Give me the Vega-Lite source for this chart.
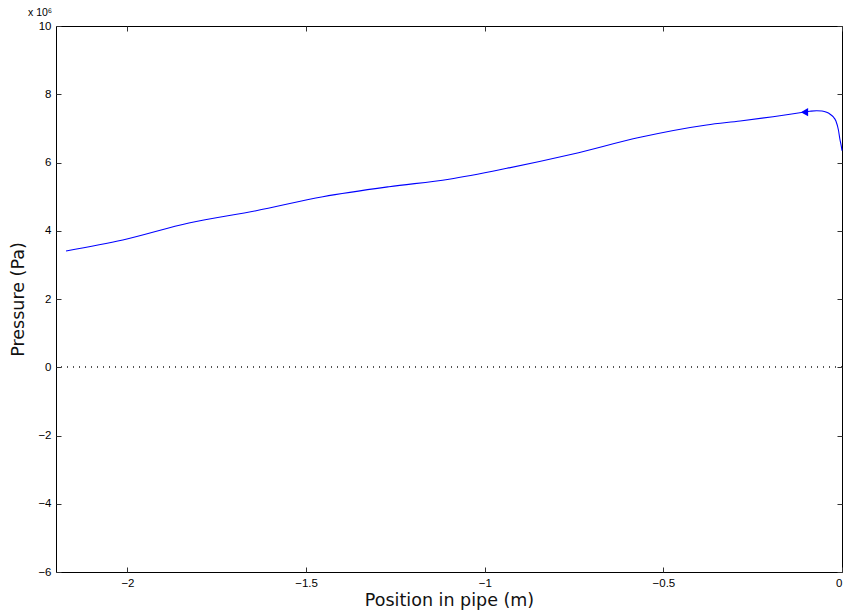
{
  "$schema": "https://vega.github.io/schema/vega-lite/v6.json",
  "width": 786,
  "height": 546,
  "autosize": "none",
  "padding": {"left": 56, "top": 26, "right": 3, "bottom": 44},
  "background": "white",
  "config": {
    "view": {"stroke": "black", "strokeWidth": 1},
    "axis": {
      "grid": false,
      "domain": false,
      "tickColor": "#333333",
      "tickWidth": 1,
      "tickSize": {"expr": "-5"},
      "labelFont": "Liberation Sans",
      "labelFontSize": 11.5,
      "labelColor": "black",
      "labelPadding": 10,
      "titleFont": "DejaVu Sans",
      "titleFontSize": 17.5,
      "titleFontWeight": "normal",
      "titleColor": "#111111"
    }
  },
  "title": {
    "text": "x 10⁶",
    "anchor": "start",
    "frame": "group",
    "dx": -28,
    "offset": 2,
    "font": "Liberation Sans",
    "fontSize": 10.5,
    "fontWeight": "normal",
    "color": "black"
  },
  "data": {
    "values": [
      {"x": -2.172, "p": 3407000},
      {"x": -2.013, "p": 3729000},
      {"x": -1.828, "p": 4227000},
      {"x": -1.640, "p": 4588000},
      {"x": -1.453, "p": 4998000},
      {"x": -1.268, "p": 5291000},
      {"x": -1.100, "p": 5510000},
      {"x": -0.938, "p": 5830000},
      {"x": -0.753, "p": 6249000},
      {"x": -0.565, "p": 6739000},
      {"x": -0.379, "p": 7099000},
      {"x": -0.285, "p": 7216000},
      {"x": -0.193, "p": 7342000},
      {"x": -0.109, "p": 7471000},
      {"x": -0.090, "p": 7500000},
      {"x": -0.071, "p": 7518000},
      {"x": -0.056, "p": 7509000},
      {"x": -0.043, "p": 7471000},
      {"x": -0.034, "p": 7421000},
      {"x": -0.025, "p": 7342000},
      {"x": -0.017, "p": 7216000},
      {"x": -0.010, "p": 6952000},
      {"x": -0.006, "p": 6689000},
      {"x": -0.002, "p": 6480000},
      {"x": 0.0, "p": 6350000}
    ]
  },
  "resolve": {"axis": {"x": "independent", "y": "independent"}},
  "layer": [
    {
      "mark": {"type": "line", "color": "#0000ff", "strokeWidth": 1.1, "interpolate": "monotone"},
      "encoding": {
        "x": {
          "field": "x", "type": "quantitative",
          "scale": {"domain": [-2.2, 0], "nice": false, "zero": false},
          "axis": {"orient": "bottom", "values": [-2, -1.5, -1, -0.5, 0], "format": "~g", "title": "Position in pipe (m)", "titlePadding": 3}
        },
        "y": {
          "field": "p", "type": "quantitative",
          "scale": {"domain": [-6000000, 10000000], "nice": false},
          "axis": {"orient": "left", "values": [-6000000, -4000000, -2000000, 0, 2000000, 4000000, 6000000, 8000000, 10000000], "labelExpr": "format(datum.value/1000000, '~g')", "title": "Pressure (Pa)", "titlePadding": 10}
        }
      }
    },
    {
      "mark": {"type": "rule", "color": "#555555", "strokeDash": [1, 5], "strokeWidth": 1},
      "encoding": {
        "y": {"datum": 0, "type": "quantitative", "axis": null}
      }
    },
    {
      "data": {"values": [{"x": -0.105, "p": 7475000}]},
      "mark": {"type": "point", "shape": "triangle-left", "filled": true, "color": "#0000ff", "size": 70, "opacity": 1},
      "encoding": {
        "x": {"field": "x", "type": "quantitative", "axis": null},
        "y": {"field": "p", "type": "quantitative", "axis": null}
      }
    },
    {
      "mark": {"type": "line", "opacity": 0},
      "encoding": {
        "x": {
          "field": "x", "type": "quantitative",
          "axis": {"orient": "top", "values": [-2, -1.5, -1, -0.5, 0], "labels": false, "title": null}
        },
        "y": {
          "field": "p", "type": "quantitative",
          "axis": {"orient": "right", "values": [-6000000, -4000000, -2000000, 0, 2000000, 4000000, 6000000, 8000000, 10000000], "labels": false, "title": null}
        }
      }
    }
  ]
}
